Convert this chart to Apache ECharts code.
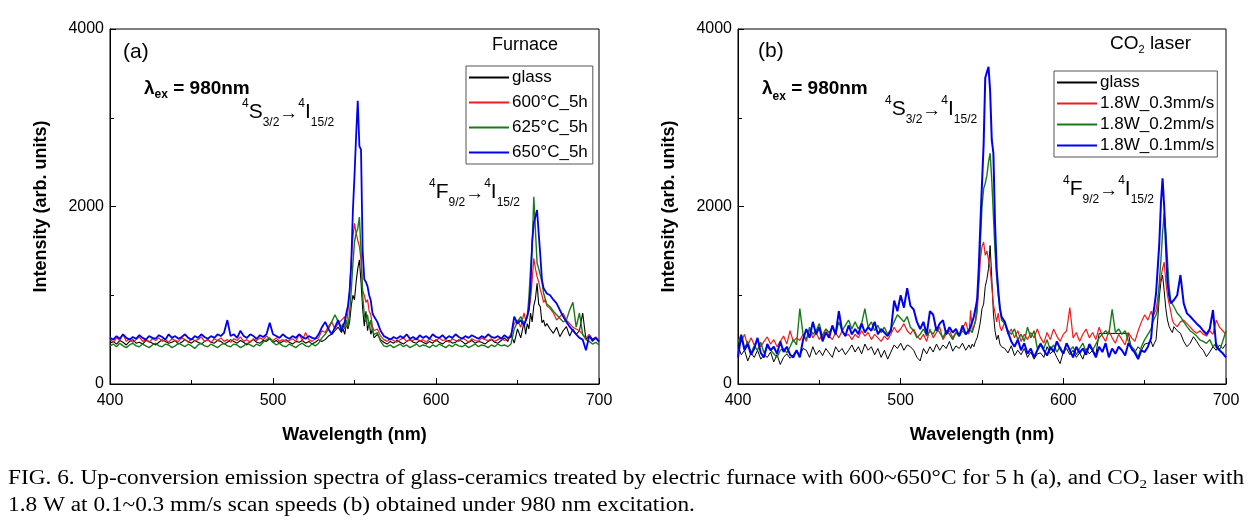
<!DOCTYPE html>
<html>
<head>
<meta charset="utf-8">
<script src="https://cdn.jsdelivr.net/npm/echarts@6/dist/echarts.min.js"></script>
<style>
html,body{margin:0;padding:0;background:#fff;}
#chart{width:1254px;height:530px;}
</style>
</head>
<body>
<div id="chart"></div>
<script>
// Wavelength grid (nm), shared by both panels
const wavelength = [
 400,402,404,406,408,410,412,414,416,418,
 420,422,424,426,428,430,432,434,436,438,
 440,442,444,446,448,450,452,454,456,458,
 460,462,464,466,468,470,472,474,476,478,
 480,482,484,486,488,490,492,494,496,498,
 500,502,504,506,508,510,512,514,516,518,
 520,522,524,526,528,530,532,534,536,538,
 540,542,
 543,544,545,546,547,548,549,550,551,552,
 553,554,555,556,557,558,559,560,561,562,
 564,566,568,570,572,574,576,578,580,582,
 584,586,588,590,592,594,596,598,600,602,
 604,606,608,610,612,614,616,618,620,622,
 624,626,628,630,632,634,636,638,640,642,
 644,646,648,650,652,654,
 655,656,657,658,659,660,661,662,663,664,
 665,666,667,668,
 670,672,674,676,678,680,682,684,686,688,
 690,692,694,696,698,700
];

// Panel (a) Furnace
const aGlass = [
 460,480,450,490,470,440,480,500,460,470,
 450,490,480,460,440,470,500,480,460,470,
 490,450,470,500,480,460,490,470,450,480,
 500,470,460,490,480,450,470,500,480,460,
 490,470,440,480,500,470,460,490,480,510,
 470,490,460,480,500,470,450,480,470,490,
 460,480,450,470,500,480,500,540,560,600,
 640,580,
 620,560,680,620,700,880,1000,950,1150,1300,
 1400,1150,850,650,820,600,700,560,620,520,
 560,500,470,450,480,460,490,470,450,480,
 500,470,460,490,470,450,480,460,500,470,
 450,480,490,460,470,500,480,450,470,490,
 460,480,470,450,480,500,470,460,490,520,
 480,560,460,620,520,700,
 560,680,620,800,700,880,960,1135,900,870,
 690,720,650,680,
 620,571,640,533,600,646,540,620,560,600,
 800,500,540,480,520,470
];
const a600 = [
 500,470,520,490,560,480,510,470,500,530,
 480,500,470,510,490,520,480,500,470,510,
 490,480,520,500,470,510,490,500,530,480,
 500,470,510,490,520,480,500,470,510,490,
 530,480,500,470,510,490,520,500,540,510,
 490,520,480,500,470,490,510,480,560,490,
 580,500,480,510,520,600,580,650,700,620,
 680,720,
 700,760,650,820,1050,1400,1650,1810,1700,1620,
 1550,1400,1050,1000,920,950,820,780,650,600,
 620,540,500,480,510,490,470,500,520,480,
 500,490,520,480,500,470,510,490,480,520,
 490,500,470,510,490,480,520,500,470,510,
 490,480,520,500,490,510,480,500,520,490,
 510,560,680,720,640,800,
 720,780,820,950,1170,1416,1300,1210,1150,1060,
 1000,920,950,880,
 850,800,721,760,796,720,680,640,620,600,
 560,520,560,500,530,490
];
const a625 = [
 430,450,420,460,430,410,440,460,430,420,
 450,430,410,440,460,430,420,450,440,410,
 430,460,440,420,450,430,400,440,460,430,
 420,450,430,410,440,460,430,420,450,440,
 410,430,460,440,420,450,430,470,500,520,
 470,440,460,430,420,450,430,410,440,460,
 430,420,450,430,460,520,560,620,700,780,
 700,640,
 680,620,720,650,800,1050,1350,1600,1700,1750,
 1880,1500,1000,780,700,780,640,720,600,560,
 580,480,430,420,440,410,430,450,420,440,
 410,430,450,420,440,430,410,440,420,450,
 430,410,440,420,450,430,420,440,410,430,
 450,420,440,430,410,440,420,450,430,440,
 420,450,620,700,760,680,
 700,760,980,1300,1550,2110,1735,1360,1300,1285,
 1150,1022,960,900,
 871,820,780,740,700,720,834,920,640,800,
 560,500,480,450,470,440
];
const a650 = [
 520,500,540,510,560,520,500,530,510,550,
 520,500,540,520,510,550,530,500,560,520,
 540,510,530,560,520,500,540,520,560,530,
 510,540,520,560,540,580,720,540,560,520,
 600,540,520,560,540,510,550,530,560,690,
 560,540,520,560,530,510,540,520,560,530,
 510,540,520,510,560,640,700,620,560,640,
 720,600,
 620,700,800,880,1050,1350,1950,2350,2800,3190,
 2680,2640,1500,1180,1150,1100,1000,940,800,760,
 700,600,540,520,500,530,510,540,520,560,
 510,530,500,550,520,540,510,560,530,520,
 550,510,540,520,560,530,510,540,520,550,
 530,510,540,520,560,530,520,540,510,550,
 520,530,760,680,720,660,
 680,760,850,1100,1600,1810,1885,1960,1700,1450,
 1172,1080,1060,1020,
 1000,950,909,834,760,700,646,600,560,520,
 500,380,540,500,520,480
];

// Panel (b) CO2 laser
const bGlass = [
 430,330,380,260,350,300,380,280,330,300,
 360,250,330,220,300,340,290,330,380,320,
 400,380,300,420,330,380,320,400,350,300,
 420,360,400,330,380,440,360,420,340,450,
 380,420,330,400,300,380,280,360,440,400,
 460,380,440,420,380,300,260,400,340,420,
 360,450,380,440,400,480,370,430,400,460,
 380,440,
 400,450,420,480,520,600,700,850,900,1100,
 1180,1300,1560,1200,800,600,500,550,450,420,
 400,350,430,320,380,330,400,300,360,280,
 340,350,300,420,340,380,300,230,360,400,
 330,380,300,350,280,400,340,380,330,570,
 570,570,570,570,570,570,570,570,570,380,
 360,420,380,450,460,480,
 420,460,500,720,980,1150,1228,1050,850,721,
 650,609,580,646,
 600,571,480,420,460,533,480,420,380,308,
 360,420,380,440,400,450
];
const b03 = [
 500,470,560,430,520,440,500,420,480,530,
 450,500,420,480,540,450,600,480,520,490,
 560,480,620,520,580,500,560,620,540,500,
 580,520,600,540,560,500,560,520,600,540,
 580,500,560,520,480,540,500,560,640,580,
 620,680,600,560,620,540,500,560,480,620,
 520,580,640,500,560,600,520,580,540,620,
 700,560,
 830,600,640,700,800,1100,1400,1550,1600,1450,
 1500,1400,1300,1100,900,800,700,800,650,600,
 700,560,620,520,600,480,560,500,580,520,
 620,520,460,580,500,620,540,480,560,600,
 860,520,580,480,560,620,520,580,500,640,
 540,480,600,520,460,560,500,440,580,520,
 480,600,700,780,720,820,
 758,800,834,960,1100,1200,1300,1373,1150,1000,
 909,820,721,680,
 646,700,720,680,640,600,571,600,560,540,
 600,560,721,640,600,560
];
const b02 = [
 470,560,400,480,350,430,380,470,350,420,
 380,340,300,380,400,350,420,500,440,850,
 560,500,640,560,600,680,520,620,580,640,
 560,700,600,660,720,620,700,620,680,850,
 640,700,600,660,580,640,560,620,700,780,
 740,700,760,640,600,520,560,620,540,600,
 560,640,580,520,600,560,500,580,540,600,
 560,620,
 620,580,650,720,900,1200,1600,2000,2200,2261,
 2350,2500,2600,2300,1900,1500,1209,1000,870,720,
 680,600,560,620,500,560,480,640,520,600,
 400,460,400,500,380,440,360,420,340,460,
 380,420,330,400,460,360,420,380,450,520,
 560,600,560,840,580,620,560,600,480,420,
 380,300,420,500,560,620,
 700,740,780,834,1150,1400,1700,1923,1700,1400,
 1100,946,900,871,
 800,758,700,646,600,571,540,496,480,458,
 500,420,460,380,480,600
];
const b01 = [
 300,550,380,450,330,400,520,350,300,450,
 380,420,340,480,360,420,330,300,380,300,
 500,620,520,700,560,640,480,580,520,660,
 560,820,600,540,660,560,620,560,680,580,
 640,600,700,560,620,580,540,600,940,820,
 1000,860,1080,880,840,700,620,700,560,820,
 780,600,680,720,560,640,580,620,540,660,
 560,600,
 650,700,760,850,950,1300,1800,2261,2700,3450,
 3460,3575,3300,2750,2600,1810,1300,1059,850,758,
 700,580,480,420,500,380,460,340,400,300,
 380,450,380,320,420,360,480,400,340,460,
 380,300,420,350,400,330,450,380,300,420,
 360,460,300,400,340,420,380,320,460,400,
 350,280,380,360,420,520,
 758,880,1022,1300,1585,2040,2317,2000,1585,1150,
 1000,909,920,946,
 1000,1228,909,796,760,720,680,646,600,560,
 620,834,420,380,346,300
];

const namesA = ['glass', '600°C_5h', '625°C_5h', '650°C_5h'];
const namesB = ['glass', '1.8W_0.3mm/s', '1.8W_0.2mm/s', '1.8W_0.1mm/s'];
const xTicks = [400, 500, 600, 700];
const yTicks = [0, 2000, 4000];

const colors = ['#000000', '#ee1c1c', '#1a7a1a', '#0000f0'];
const widthsA = [1.1, 1.2, 1.4, 1.8];
const widthsB = [1.0, 1.2, 1.4, 2.0];

function pairs(vals) { return wavelength.map((x, i) => [x, vals[i]]); }

const FONT = 'Liberation Sans';

function xAxisCfg(gi) {
  return {
    type: 'value', gridIndex: gi, min: xTicks[0], max: xTicks[xTicks.length - 1], interval: 100,
    axisLine: { show: true, lineStyle: { color: '#000', width: 1 } },
    axisTick: { show: true, inside: true, length: 6, lineStyle: { color: '#000' } },
    minorTick: { show: true, splitNumber: 2, length: 4, lineStyle: { color: '#000' } },
    splitLine: { show: false },
    axisLabel: { color: '#000', fontSize: 16, fontFamily: FONT, margin: 9, formatter: v => String(v) },
    name: 'Wavelength (nm)', nameLocation: 'middle', nameGap: 42,
    nameTextStyle: { color: '#000', fontSize: 18, fontWeight: 'bold', fontFamily: FONT }
  };
}
function yAxisCfg(gi) {
  return {
    type: 'value', gridIndex: gi, min: yTicks[0], max: yTicks[yTicks.length - 1], interval: 2000,
    axisLine: { show: true, lineStyle: { color: '#000', width: 1 } },
    axisTick: { show: true, inside: true, length: 6, lineStyle: { color: '#000' } },
    minorTick: { show: true, splitNumber: 2, length: 4, lineStyle: { color: '#000' } },
    splitLine: { show: false },
    axisLabel: { color: '#000', fontSize: 16, fontFamily: FONT, margin: 6, formatter: v => String(v) },
    name: 'Intensity (arb. units)', nameLocation: 'middle', nameGap: 60,
    nameTextStyle: { color: '#000', fontSize: 18, fontWeight: 'bold', fontFamily: FONT }
  };
}

const series = [];
[aGlass, a600, a625, a650].forEach((v, i) => {
  series.push({
    type: 'line', name: namesA[i], xAxisIndex: 0, yAxisIndex: 0, data: pairs(v),
    symbol: 'none', showSymbol: false, animation: false,
    lineStyle: { color: colors[i], width: widthsA[i] }, itemStyle: { color: colors[i] }
  });
});
[bGlass, b03, b02, b01].forEach((v, i) => {
  series.push({
    type: 'line', name: namesB[i] + ' (b)', xAxisIndex: 1, yAxisIndex: 1, data: pairs(v),
    symbol: 'none', showSymbol: false, animation: false,
    lineStyle: { color: colors[i], width: widthsB[i] }, itemStyle: { color: colors[i] }
  });
});

const transRich = {
  m: { fontSize: 21, fontFamily: FONT, lineHeight: 34, fill: '#000' },
  a: { fontSize: 19, fontFamily: FONT, lineHeight: 34, fill: '#000', padding: [4, 0, 0, 0] },
  sup: { fontSize: 12, fontFamily: FONT, verticalAlign: 'top', lineHeight: 13, fill: '#000', padding: [3, 0, 0, 0] },
  sub: { fontSize: 12, fontFamily: FONT, verticalAlign: 'bottom', lineHeight: 13, fill: '#000' }
};
function transText(x, y, L, sub) {
  return {
    type: 'text', x: x, y: y, silent: true,
    style: {
      text: '{sup|4}{m|' + L + '}{sub|' + sub + '}{a|→}{sup|4}{m|I}{sub|15/2}',
      rich: transRich, verticalAlign: 'top', align: 'left'
    }
  };
}
function lamText(x, y, lowSub) {
  return {
    type: 'text', x: x, y: y, silent: true,
    style: {
      text: '{l|λ}{e|ex}{l| = 980nm}',
      rich: {
        l: { fontSize: 19, fontWeight: 'bold', fontFamily: FONT, lineHeight: lowSub ? 28 : 24, fill: '#000' },
        e: { fontSize: 12, fontWeight: 'bold', fontFamily: FONT, verticalAlign: 'bottom', lineHeight: 14, fill: '#000' }
      },
      verticalAlign: 'top', align: 'left'
    }
  };
}
function plainText(x, y, t, size, extra) {
  return {
    type: 'text', x: x, y: y, silent: true,
    style: Object.assign({ text: t, fontSize: size, fontFamily: FONT, fill: '#000', verticalAlign: 'middle', align: 'left' }, extra || {})
  };
}

const captionRich = {
  t: { fontSize: 20, fontFamily: 'Liberation Serif', fill: '#000', lineHeight: 24 },
  s: { fontSize: 13, fontFamily: 'Liberation Serif', fill: '#000', verticalAlign: 'bottom', lineHeight: 18 }
};

const graphics = [
  plainText(123, 52, '(a)', 21),
  lamText(144, 77, false),
  transText(242, 95, 'S', '3/2'),
  transText(429, 175, 'F', '9/2'),
  plainText(492, 45, 'Furnace', 18),
  plainText(758, 51, '(b)', 21),
  lamText(762, 75, true),
  transText(885, 92, 'S', '3/2'),
  transText(1063, 172, 'F', '9/2'),
  {
    type: 'text', x: 1110, y: 33, silent: true,
    style: {
      text: '{m|CO}{s|2}{m| laser}',
      rich: {
        m: { fontSize: 19, fontFamily: FONT, fill: '#000', lineHeight: 22 },
        s: { fontSize: 11, fontFamily: FONT, fill: '#000', verticalAlign: 'bottom', lineHeight: 12 }
      },
      verticalAlign: 'top', align: 'left'
    }
  },
  {
    type: 'text', x: 8, y: 467, scaleX: 1.165, silent: true,
    style: {
      text: '{t|FIG. 6. Up-conversion emission spectra of glass-ceramics treated by electric furnace with 600~650°C for 5 h (a), and CO}{s|2}{t| laser with}',
      rich: captionRich, verticalAlign: 'top', align: 'left'
    }
  },
  {
    type: 'text', x: 8, y: 494, scaleX: 1.165, silent: true,
    style: {
      text: '{t|1.8 W at 0.1~0.3 mm/s scan speeds (b) obtained under 980 nm excitation.}',
      rich: captionRich, verticalAlign: 'top', align: 'left'
    }
  }
];

const legendBase = {
  orient: 'vertical', itemWidth: 40, itemHeight: 14,
  borderColor: '#555', borderWidth: 1, backgroundColor: '#fff',
  itemStyle: { opacity: 0 },
  textStyle: { color: '#000', fontSize: 17, fontFamily: FONT, padding: [0, 0, 0, -2] },
  selectedMode: false
};

const chart = echarts.init(document.getElementById('chart'), null, { renderer: 'canvas' });
chart.setOption({
  backgroundColor: '#fff',
  animation: false,
  grid: [
    { left: 110, top: 29, width: 489, height: 355, show: true, borderColor: '#000', borderWidth: 1, backgroundColor: 'transparent' },
    { left: 738, top: 29, width: 488, height: 355, show: true, borderColor: '#000', borderWidth: 1, backgroundColor: 'transparent' }
  ],
  xAxis: [xAxisCfg(0), xAxisCfg(1)],
  yAxis: [yAxisCfg(0), yAxisCfg(1)],
  legend: [
    Object.assign({}, legendBase, { left: 466, top: 66, itemGap: 8, padding: [3, 5, 3, 2], data: namesA }),
    Object.assign({}, legendBase, { left: 1054, top: 71, itemGap: 4, padding: [3, 3, 3, 2], data: namesB.map(n => n + ' (b)'),
      formatter: n => n.replace(' (b)', '') })
  ],
  series: series,
  graphic: graphics
});
</script>
</body>
</html>
